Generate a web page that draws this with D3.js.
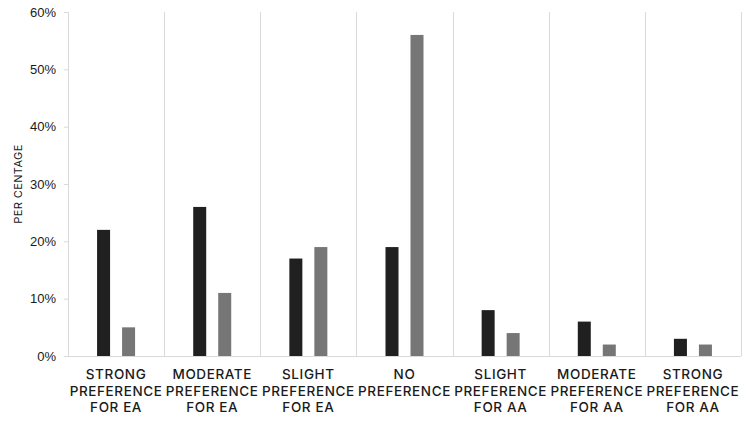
<!DOCTYPE html>
<html>
<head>
<meta charset="utf-8">
<script src="https://cdn.jsdelivr.net/npm/d3@7"></script>
<style>
  body { margin: 0; background: #fff; }
  svg { display: block; font-family: Inter, "DejaVu Sans", sans-serif; }
</style>
</head>
<body>
<div id="chart"></div>
<script>
// Categories (label lines each) and the two series, in percent.
const categories = [
    ["STRONG", "PREFERENCE", "FOR EA"],
    ["MODERATE", "PREFERENCE", "FOR EA"],
    ["SLIGHT", "PREFERENCE", "FOR EA"],
    ["NO", "PREFERENCE"],
    ["SLIGHT", "PREFERENCE", "FOR AA"],
    ["MODERATE", "PREFERENCE", "FOR AA"],
    ["STRONG", "PREFERENCE", "FOR AA"]
];
const seriesDark = [22, 26, 17, 19, 8, 6, 3];
const seriesGray = [5, 11, 19, 56, 4, 2, 2];
const yTicks = [0, 10, 20, 30, 40, 50, 60];

const W = 750, H = 422;
const margin = { top: 12, right: 9, bottom: 66, left: 68 };
const innerW = W - margin.left - margin.right;
const innerH = H - margin.top - margin.bottom;

const svg = d3.select("#chart").append("svg")
    .attr("width", W)
    .attr("height", H);

const g = svg.append("g")
    .attr("transform", `translate(${margin.left},${margin.top})`);

const idx = categories.map((d, i) => i);

const x = d3.scaleBand()
    .domain(idx)
    .range([0, innerW]);

const y = d3.scaleLinear()
    .domain([0, 60])
    .range([innerH, 0]);

// Vertical separators between categories (and the left axis line)
g.selectAll(".sep")
    .data(d3.range(categories.length + 1))
    .enter()
    .append("line")
    .attr("x1", d => Math.round(d * x.bandwidth()) + 0.5)
    .attr("x2", d => Math.round(d * x.bandwidth()) + 0.5)
    .attr("y1", 0)
    .attr("y2", innerH)
    .attr("stroke", "#d9d9d9")
    .attr("stroke-width", 1);

// Y axis ticks and labels
const yAxis = g.append("g")
    .call(d3.axisLeft(y).tickValues(yTicks).tickFormat(d => d + "%").tickSize(4).tickPadding(8));
yAxis.select(".domain").remove();
yAxis.selectAll(".tick line").attr("stroke", "#d9d9d9");
yAxis.selectAll(".tick text")
    .attr("fill", "#1a1a1a")
    .style("font-size", "13px");

// Baseline
g.append("line")
    .attr("x1", 0)
    .attr("x2", innerW)
    .attr("y1", innerH + 0.5)
    .attr("y2", innerH + 0.5)
    .attr("stroke", "#d9d9d9");

// Bars
const barW = 13, offset = 12.5;
const series = [
    { values: seriesDark, color: "#202020", dx: -offset },
    { values: seriesGray, color: "#767676", dx: offset }
];
series.forEach(s => {
    g.selectAll(null)
        .data(s.values)
        .enter()
        .append("rect")
        .attr("x", (d, i) => x(i) + x.bandwidth() / 2 + s.dx - barW / 2)
        .attr("y", d => y(d))
        .attr("width", barW)
        .attr("height", d => innerH - y(d))
        .attr("fill", s.color);
});

// Category labels
const labels = g.selectAll(".cat")
    .data(categories)
    .enter()
    .append("text")
    .attr("text-anchor", "middle")
    .attr("fill", "#1a1a1a")
    .style("font-size", "13.5px")
    .style("font-weight", "500")
    .style("letter-spacing", "0.6px");
labels.each(function(lines, i) {
    const t = d3.select(this);
    lines.forEach((line, j) => {
        t.append("tspan")
            .attr("x", x(i) + x.bandwidth() / 2)
            .attr("y", innerH + 23 + j * 16.5)
            .text(line);
    });
});

// Y axis title
svg.append("text")
    .attr("transform", `translate(22,${margin.top + innerH / 2}) rotate(-90)`)
    .attr("text-anchor", "middle")
    .attr("fill", "#1a1a1a")
    .style("font-size", "11px")
    .style("letter-spacing", "0.4px")
    .text("PER CENTAGE");
</script>
</body>
</html>
